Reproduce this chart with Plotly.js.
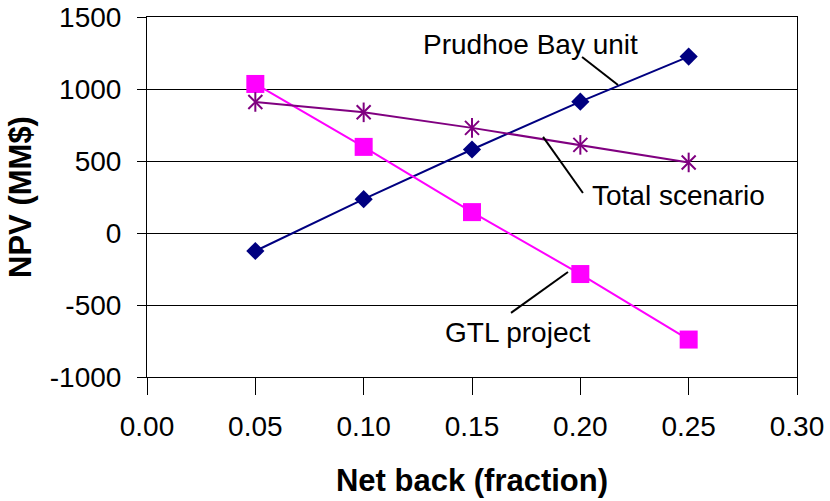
<!DOCTYPE html>
<html>
<head>
<meta charset="utf-8">
<script src="https://cdn.plot.ly/plotly-3.0.1.min.js"></script>
<style>html,body{margin:0;padding:0;background:#fff;}#chart{width:830px;height:501px;}</style>
</head>
<body>
<div id="chart"></div>
<script>
var netBack = [0.05, 0.10, 0.15, 0.20, 0.25];
var prudhoe = [-125, 235, 580, 912, 1225];
var gtl = [1035, 598, 145, -285, -740];
var total = [910, 838, 730, 612, 490];
var seriesNames = ['Prudhoe Bay unit', 'Total scenario', 'GTL project'];
var yTicks = [-1000, -500, 0, 500, 1000, 1500];
var yTickText = ['-1000', '-500', '0', '500', '1000', '1500'];
var xTicks = [0, 0.05, 0.10, 0.15, 0.20, 0.25, 0.30];
var xTickText = ['0.00', '0.05', '0.10', '0.15', '0.20', '0.25', '0.30'];

var font = 'Arial, "Liberation Sans", sans-serif';

var traces = [
  {x: netBack, y: prudhoe, name: seriesNames[0], mode: 'lines+markers',
   line: {color: '#000080', width: 2},
   marker: {symbol: 'diamond', size: 14, color: '#000080'}},
  {x: netBack, y: gtl, name: seriesNames[2], mode: 'lines+markers',
   line: {color: '#FF00FF', width: 2},
   marker: {symbol: 'square', size: 18, color: '#FF00FF'}},
  {x: netBack, y: total, name: seriesNames[1], mode: 'lines+markers',
   line: {color: '#800080', width: 2},
   marker: {symbol: 'x-thin-open', size: 14, color: '#800080', line: {color: '#800080', width: 2}}},
  {x: netBack, y: total, name: seriesNames[1], mode: 'markers', showlegend: false,
   marker: {symbol: 'line-ns-open', size: 14, color: '#800080', line: {color: '#800080', width: 2}}}
];

var layout = {
  width: 830, height: 501,
  margin: {l: 147, r: 33, t: 17, b: 124},
  paper_bgcolor: '#fff', plot_bgcolor: '#fff',
  showlegend: false,
  font: {family: font, color: '#000'},
  xaxis: {
    range: [0, 0.30], tickvals: xTicks, ticktext: xTickText,
    showgrid: false, zeroline: false,
    showline: true, linecolor: '#000', linewidth: 1, mirror: true,
    ticks: 'outside', ticklen: 17, tickcolor: '#000',
    ticklabelstandoff: 7,
    tickfont: {size: 28, family: font},
    title: {text: '<b>Net back (fraction)</b>', font: {size: 31, family: font}, standoff: 28}
  },
  yaxis: {
    range: [-1000, 1500], tickvals: yTicks, ticktext: yTickText,
    showgrid: true, gridcolor: '#000', gridwidth: 1, zeroline: false,
    showline: true, linecolor: '#000', linewidth: 1, mirror: true,
    ticks: 'outside', ticklen: 9, tickcolor: '#000',
    ticklabelstandoff: 10,
    tickfont: {size: 28, family: font},
    title: {text: '<b>NPV (MM$)</b>', font: {size: 31, family: font}, standoff: 8}
  },
  shapes: [
    {type: 'line', xref: 'x', yref: 'y', x0: 0.2008, y0: 1222, x1: 0.2174, y1: 1028, line: {color: '#000', width: 2}},
    {type: 'line', xref: 'x', yref: 'y', x0: 0.1828, y0: 667, x1: 0.2012, y1: 278, line: {color: '#000', width: 2}},
    {type: 'line', xref: 'x', yref: 'y', x0: 0.168, y0: -555, x1: 0.1943, y1: -271, line: {color: '#000', width: 2}}
  ],
  annotations: [
    {x: 0.1768, y: 1312, xref: 'x', yref: 'y', text: seriesNames[0], showarrow: false, font: {size: 28, family: font}},
    {x: 0.2451, y: 257, xref: 'x', yref: 'y', text: seriesNames[1], showarrow: false, font: {size: 28, family: font}},
    {x: 0.1712, y: -694, xref: 'x', yref: 'y', text: seriesNames[2], showarrow: false, font: {size: 28, family: font}}
  ]
};

Plotly.newPlot('chart', traces, layout, {displayModeBar: false, staticPlot: true});
</script>
</body>
</html>
